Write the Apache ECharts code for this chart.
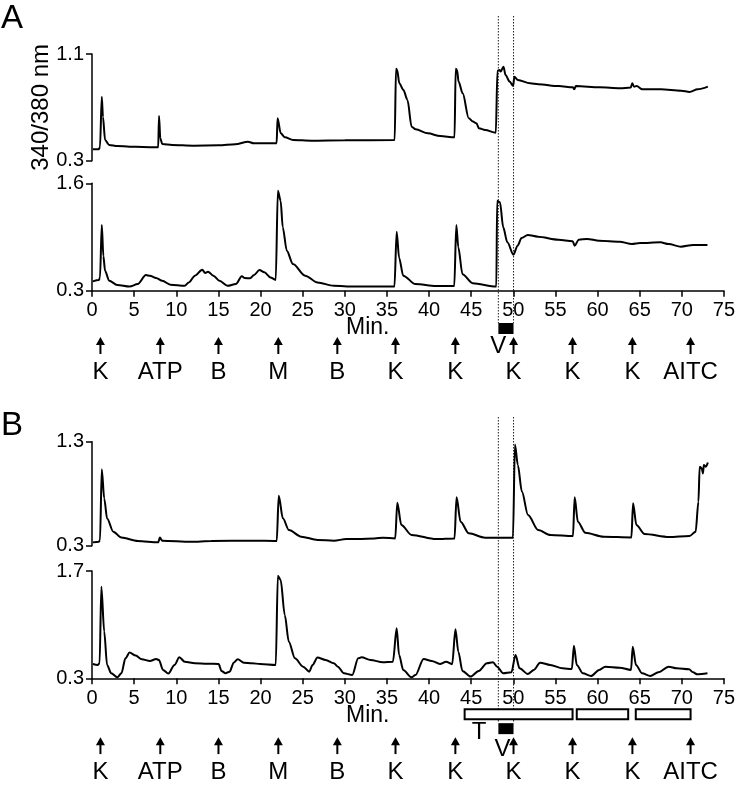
<!DOCTYPE html>
<html><head><meta charset="utf-8">
<script src="https://cdn.jsdelivr.net/npm/echarts@6/dist/echarts.min.js"></script>
<style>html,body{margin:0;padding:0;background:#fff}#c{width:738px;height:786px}</style>
</head><body><div id="c"></div><script>
const FONT = "'Liberation Sans', Arial, Helvetica, sans-serif";

// ---- Panel A, top trace (340/380 ratio) ----
const timeA1 = [0.1,0.82,0.95,1.16,1.3,1.55,2.04,3.0,4.46,6.0,7.85,7.95,8.1,8.34,9.5,12,15,17,18.5,19.2,21.5,21.9,22.01,22.39,22.88,23.85,26,30,35.9,36.06,36.2,36.45,36.94,37.42,37.91,38.39,39.84,41.3,43.0,43.14,43.3,43.48,43.97,44.69,45.18,45.6,45.9,46.63,47.9,48.09,48.33,48.47,48.81,49.05,49.54,49.95,50.1,50.51,51.96,52.93,55.36,57.05,57.2,57.4,60.2,62.63,63.9,64.08,64.3,64.6,65.29,67.47,69.9,70.87,71.84,73.05];
const valA1  = [0.385,0.385,0.405,0.78,0.63,0.455,0.418,0.41,0.405,0.403,0.40,0.635,0.468,0.425,0.418,0.413,0.415,0.423,0.443,0.43,0.43,0.43,0.618,0.505,0.475,0.455,0.45,0.453,0.455,0.99,0.98,0.88,0.83,0.755,0.555,0.535,0.505,0.485,0.475,0.99,0.98,0.893,0.805,0.618,0.593,0.58,0.543,0.53,0.51,0.975,0.98,0.968,1.005,0.943,0.893,0.86,0.93,0.905,0.88,0.873,0.86,0.85,0.835,0.86,0.85,0.843,0.848,0.88,0.855,0.86,0.835,0.835,0.825,0.815,0.835,0.855];

// ---- Panel A, bottom trace ----
const timeA2 = [0.1,0.82,0.95,1.16,1.35,1.55,2.04,3.0,4.46,5.43,6.4,6.88,7.61,8.34,9.31,11.0,11.49,12.22,13.09,13.43,13.77,14.4,15.12,16.09,17.06,17.79,18.13,18.76,19.24,19.87,20.46,21.18,21.81,22.06,22.39,22.64,23.12,23.85,25.3,26.76,28.7,31.12,35.9,36.16,36.45,36.94,38.39,40.81,43.0,43.24,43.48,43.97,45.18,47.99,48.09,48.42,48.81,49.3,50.02,50.51,50.99,51.72,52.93,55.36,57.05,57.29,57.78,58.75,60.2,62.63,64.08,65.05,67.47,68.44,69.9,71.35,73.05];
const valA2  = [0.413,0.43,0.46,1.095,0.72,0.54,0.42,0.37,0.35,0.38,0.49,0.48,0.453,0.42,0.373,0.36,0.40,0.482,0.554,0.514,0.53,0.482,0.42,0.36,0.38,0.474,0.453,0.45,0.49,0.55,0.522,0.461,0.43,1.51,1.39,1.067,0.785,0.623,0.482,0.40,0.36,0.35,0.35,1.015,0.70,0.482,0.38,0.357,0.357,1.095,0.825,0.50,0.39,0.35,1.39,1.37,1.067,0.885,0.736,0.845,0.938,0.974,0.954,0.918,0.90,0.845,0.918,0.926,0.905,0.893,0.865,0.877,0.885,0.865,0.833,0.853,0.853];

// ---- Panel B, top trace ----
const timeB1 = [0.1,0.82,0.95,1.16,1.45,1.79,2.52,3.49,5.43,7.85,8.05,8.34,11.73,14.15,19.0,21.91,22.15,22.64,23.36,24.82,26.76,28.7,30.15,31.6,33.54,34.51,35.97,36.21,36.69,37.91,40.81,43.0,43.24,43.72,44.69,46.63,49.93,50.17,50.51,50.99,51.72,52.93,54.39,57.05,57.25,57.63,58.51,60.69,63.98,64.18,64.57,65.54,68.44,70.87,71.6,71.93,72.08,72.32,72.47,72.57,72.81,73.05];
const valB1  = [0.332,0.338,0.355,1.034,0.755,0.562,0.435,0.378,0.345,0.332,0.378,0.348,0.338,0.345,0.348,0.345,0.78,0.563,0.45,0.387,0.355,0.348,0.364,0.364,0.37,0.377,0.37,0.713,0.499,0.403,0.364,0.37,0.765,0.53,0.419,0.377,0.377,1.274,1.076,0.82,0.595,0.45,0.403,0.393,0.765,0.53,0.425,0.387,0.38,0.707,0.499,0.412,0.383,0.393,0.435,0.723,1.06,1.044,0.995,1.076,1.06,1.10];

// ---- Panel B, bottom trace ----
const timeB2 = [0.1,0.68,0.9,1.11,1.45,1.79,2.28,3.0,3.49,3.97,4.46,5.19,5.91,6.88,7.61,7.95,8.43,9.06,9.79,10.37,11.0,12.22,13.67,15.03,15.37,15.85,16.34,16.82,17.3,18.03,19.0,19.97,21.81,22.06,22.39,22.88,23.36,24.09,25.06,25.79,26.18,26.76,27.73,28.7,29.18,29.91,30.88,31.6,31.99,33.06,34.51,35.72,36.16,36.45,36.94,37.91,38.39,39.36,40.33,41.3,42.03,42.75,43.14,43.48,43.97,44.94,45.9,46.87,47.6,48.09,48.81,49.78,50.27,50.75,51.72,52.45,53.18,54.39,55.84,56.96,57.2,57.54,58.26,59.23,60.2,60.93,62.63,63.98,64.18,64.57,65.29,66.26,67.23,68.44,69.41,70.87,71.35,71.84,73.05];
const valB2  = [0.487,0.474,0.496,1.496,0.909,0.474,0.365,0.313,0.365,0.561,0.635,0.596,0.548,0.526,0.552,0.539,0.409,0.361,0.474,0.574,0.517,0.496,0.491,0.487,0.396,0.365,0.387,0.504,0.548,0.504,0.496,0.487,0.474,1.639,1.583,1.126,0.778,0.561,0.452,0.387,0.474,0.57,0.539,0.496,0.452,0.365,0.343,0.561,0.574,0.539,0.509,0.517,0.952,0.604,0.409,0.313,0.343,0.552,0.526,0.487,0.517,0.483,0.939,0.648,0.396,0.322,0.396,0.496,0.509,0.452,0.365,0.378,0.604,0.43,0.357,0.409,0.504,0.474,0.43,0.422,0.726,0.474,0.365,0.33,0.409,0.452,0.439,0.409,0.713,0.474,0.365,0.33,0.378,0.452,0.43,0.417,0.378,0.352,0.365];

// ---- axes / annotations ----
const xRange = [0, 75];
const xTickStep = 5;
const yRangeA1 = [0.3, 1.1];
const yRangeA2 = [0.3, 1.6];
const yRangeB1 = [0.3, 1.3];
const yRangeB2 = [0.3, 1.7];
const yTitle = '340/380 nm';
const arrowTimes  = [1, 8.1, 15, 22.1, 29.1, 36, 43.1, 50, 57, 64.1, 71];
const arrowLabels = ['K','ATP','B','M','B','K','K','K','K','K','AITC'];
const dottedTimes = [48.2, 50];
const vBar = [48.2, 50];
const tBars = [[44.2, 57], [57.5, 63.6], [64.5, 71]];

const chart = echarts.init(document.getElementById('c'), null, {renderer: 'canvas'});
const L = 92, R = 13.7;
const grids = [
  {left: L, right: R, top: 54, height: 106.7},
  {left: L, right: R, top: 183.3, height: 107.4},
  {left: L, right: R, top: 441.7, height: 104},
  {left: L, right: R, top: 571, height: 107.3},
  {left: L, right: R, top: 16, height: 370},
  {left: L, right: R, top: 417, height: 370}
];
function xAx(i, show) {
  return {
    gridIndex: i, type: 'value', min: xRange[0], max: xRange[1], interval: xTickStep, show: show,
    axisLine: {show: true, onZero: false, lineStyle: {color: '#000', width: 1.5}},
    axisTick: {show: true, length: 6, lineStyle: {color: '#000', width: 1.5}},
    axisLabel: {show: true, color: '#000', fontSize: 20, fontFamily: FONT, margin: 10},
    splitLine: {show: false}
  };
}
function yAx(i, rng, extra) {
  return Object.assign({
    gridIndex: i, type: 'value', min: rng[0], max: rng[1],
    axisLine: {show: true, lineStyle: {color: '#000', width: 1.5}},
    axisTick: {show: true, length: 6, customValues: rng, lineStyle: {color: '#000', width: 1.5}},
    axisLabel: {show: true, customValues: rng, color: '#000', fontSize: 20, fontFamily: FONT, margin: 8,
      formatter: v => v.toFixed(1)},
    splitLine: {show: false}
  }, extra || {});
}
const xAxes = [xAx(0,false), xAx(1,true), xAx(2,false), xAx(3,true), xAx(4,false), xAx(5,false)];
const yAxes = [
  yAx(0, yRangeA1, {name: yTitle, nameLocation: 'middle', nameRotate: 90, nameGap: 39, nameMoveOverlap: false,
    nameTextStyle: {color: '#000', fontSize: 24, fontFamily: FONT}}),
  yAx(1, yRangeA2), yAx(2, yRangeB1), yAx(3, yRangeB2),
  {gridIndex: 4, type: 'value', min: 0, max: 370, inverse: true, show: false},
  {gridIndex: 5, type: 'value', min: 0, max: 370, inverse: true, show: false}
];
function lineSeries(i, ts, vs) {
  return {type: 'line', xAxisIndex: i, yAxisIndex: i, data: ts.map((t, k) => [t, vs[k]]),
    showSymbol: false, symbol: 'none', smooth: 0.3, smoothMonotone: 'x', clip: false,
    lineStyle: {color: '#000', width: 2}, animation: false, silent: true};
}
function txt(x, y, s, size) {
  return {type: 'text', style: {text: s, x: x, y: y, fill: '#000', fontSize: size, fontFamily: FONT,
    align: 'center', verticalAlign: 'middle'}};
}
function annot(i, vLabelT, vLabelOff, withT) {
  const out = [];
  out.push({type: 'custom', xAxisIndex: i, yAxisIndex: i, data: dottedTimes.map(t => [t, 0]), silent: true, animation: false,
    renderItem: (p, api) => {
      const a = api.coord([api.value(0), 0]), b = api.coord([api.value(0), 307]);
      return {type: 'line', shape: {x1: a[0], y1: a[1], x2: b[0], y2: b[1]},
        style: {stroke: '#222', lineWidth: 1, lineDash: [1.5, 1.5]}};
    }});
  out.push({type: 'custom', xAxisIndex: i, yAxisIndex: i, data: [vBar], silent: true, animation: false,
    renderItem: (p, api) => {
      const a = api.coord([api.value(0), 307]), b = api.coord([api.value(1), 318]);
      return {type: 'rect', shape: {x: a[0], y: a[1], width: b[0] - a[0], height: b[1] - a[1]}, style: {fill: '#000'}};
    }});
  if (withT) {
    out.push({type: 'custom', xAxisIndex: i, yAxisIndex: i, data: tBars, silent: true, animation: false,
      renderItem: (p, api) => {
        const a = api.coord([api.value(0), 293]), b = api.coord([api.value(1), 303]);
        return {type: 'rect', shape: {x: a[0], y: a[1], width: b[0] - a[0], height: b[1] - a[1]},
          style: {fill: '#fff', stroke: '#000', lineWidth: 2}};
      }});
  }
  out.push({type: 'custom', xAxisIndex: i, yAxisIndex: i, data: arrowTimes.map((t, k) => [t, 321, k]), silent: true, animation: false,
    renderItem: (p, api) => {
      const t = api.value(0), k = api.value(2);
      const top = api.coord([t, 321]), bot = api.coord([t, 338]), lab = api.coord([t, 356]);
      const x = top[0];
      return {type: 'group', children: [
        {type: 'line', shape: {x1: x, y1: top[1] + 6, x2: x, y2: bot[1]}, style: {stroke: '#000', lineWidth: 2}},
        {type: 'polygon', shape: {points: [[x, top[1]], [x - 4.5, top[1] + 8], [x + 4.5, top[1] + 8]]}, style: {fill: '#000'}},
        txt(x, lab[1], arrowLabels[k], 24)
      ]};
    }});
  const labs = [[vLabelT, vLabelOff, 'V']];
  if (withT) labs.push([45.9, 316, 'T']);
  out.push({type: 'custom', xAxisIndex: i, yAxisIndex: i, data: labs.map(d => [d[0], d[1]]), silent: true, animation: false,
    renderItem: (p, api) => {
      const c = api.coord([api.value(0), api.value(1)]);
      return txt(c[0], c[1], labs[p.dataIndex][2], 24);
    }});
  return out;
}

const option = {
  backgroundColor: '#fff',
  animation: false,
  grid: grids,
  xAxis: xAxes,
  yAxis: yAxes,
  series: [
    lineSeries(0, timeA1, valA1),
    lineSeries(1, timeA2, valA2),
    lineSeries(2, timeB1, valB1),
    lineSeries(3, timeB2, valB2),
    ...annot(4, 48.2, 330, false),
    ...annot(5, 48.7, 333, true)
  ],
  graphic: [
    {type: 'text', left: 1, top: 2, style: {text: 'A', fontSize: 33, fontFamily: FONT, fill: '#000'}},
    {type: 'text', left: 1, top: 409, style: {text: 'B', fontSize: 33, fontFamily: FONT, fill: '#000'}},
    {type: 'text', left: 346, top: 316, style: {text: 'Min.', fontSize: 23, fontFamily: FONT, fill: '#000'}},
    {type: 'text', left: 346, top: 704, style: {text: 'Min.', fontSize: 23, fontFamily: FONT, fill: '#000'}}
  ]
};
chart.setOption(option);
</script></body></html>
